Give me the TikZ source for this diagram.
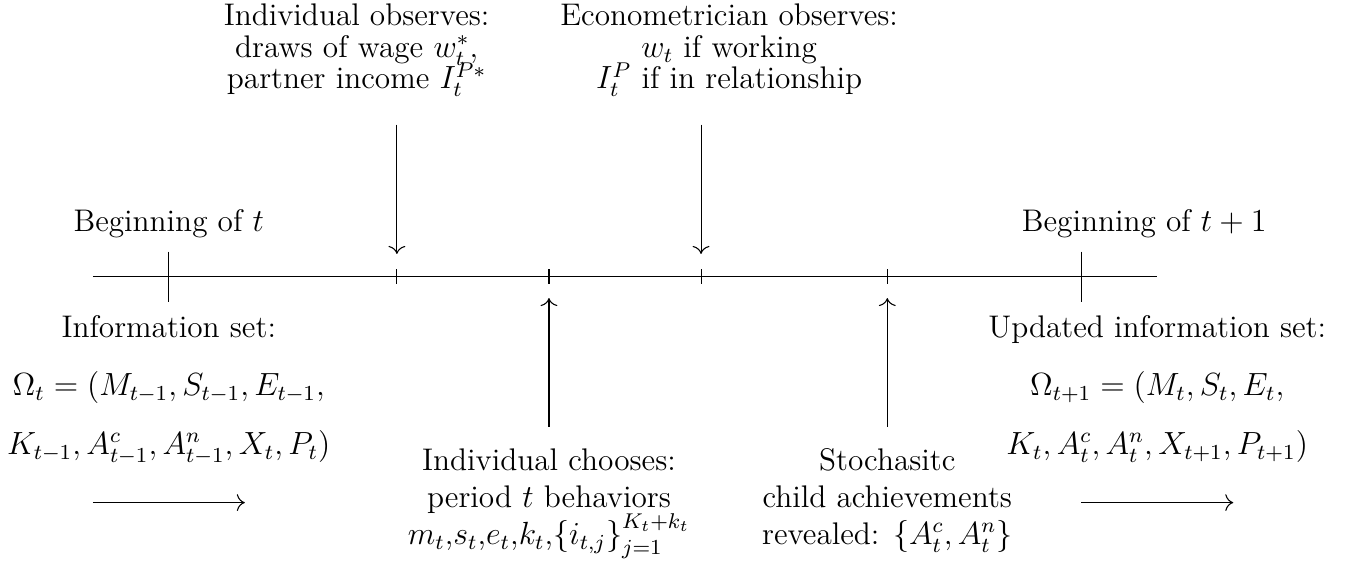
\documentclass[tikz,border=0pt]{standalone}
\usepackage{amsmath,amssymb}
\usetikzlibrary{arrows.meta,positioning,calc}
\newcommand{\obsfont}{\fontsize{11.7}{11.8}\selectfont\lineskiplimit=-20pt}
\newcommand{\evtfont}{\fontsize{11.7}{13.8}\selectfont}
\tikzset{
  timeline/.style={draw=black,line width=0.4pt},
  boundtick/.style={draw=black,line width=0.4pt},
  eventtick/.style={draw=black,line width=0.4pt},
  eventarrow/.style={-{To[length=3pt]},draw=black,line width=0.4pt},
  flowarrow/.style={-{To[length=3pt]},draw=black,line width=0.4pt},
  obslabel/.style={align=center,inner sep=1pt,font=\obsfont},
  eventlabel/.style={align=center,inner sep=1pt,font=\evtfont},
  infolabel/.style={align=center,inner sep=1pt,font=\evtfont}
}

\begin{document}
\begin{tikzpicture}
  \useasboundingbox (-1.22,-3.95) rectangle (16.68,3.64);

  % time axis
  \coordinate (axisL) at (0,0);
  \coordinate (axisR) at (14,0);
  \draw[timeline] (axisL) -- (axisR);

  % period boundaries and events within the period
  \foreach \n/\x in {b0/1,b1/13}{
    \coordinate (\n top) at (\x,0.33);
    \coordinate (\n bot) at (\x,-0.33);
    \draw[boundtick] (\n top) -- (\n bot);}
  \foreach \n/\x in {e1/4,e2/6,e3/8,e4/10.45}{
    \coordinate (\n top) at (\x,0.1);
    \coordinate (\n bot) at (\x,-0.1);
    \draw[eventtick] (\n top) -- (\n bot);}

  \node[eventlabel,anchor=base] (begin0) at (1,0.59) {Beginning of $t$};
  \node[eventlabel,anchor=base] (begin1) at (13.83,0.59) {Beginning of $t+1$};

  % what is observed (above the axis)
  \node[obslabel,anchor=north] (indobs) at (3.47,3.63) {Individual observes:\\draws of wage $w^*_t$,\\partner income $I^{P*}_t$};
  \node[obslabel,anchor=north] (ecoobs) at (8.37,3.63) {Econometrician observes:\\$w_t$ if working\\$I^P_t$ if in relationship};
  \coordinate (indobs from) at (4,2.0);
  \coordinate (indobs to) at (4,0.3);
  \coordinate (ecoobs from) at (8,2.0);
  \coordinate (ecoobs to) at (8,0.3);
  \draw[eventarrow] (indobs from) -- (indobs to);
  \draw[eventarrow] (ecoobs from) -- (ecoobs to);

  % choices and outcomes (below the axis)
  \node[eventlabel,anchor=north] (choose) at (6,-2.22) {Individual chooses:\\period $t$ behaviors\\$m_t$,$s_t$,$e_t$,$k_t$,$\left\{i_{t,j}\right\}_{j=1}^{K_t+k_t}$};
  \node[eventlabel,anchor=north] (reveal) at (10.45,-2.22) {Stochasitc\\child achievements\\revealed: $\{A^c_t,A^n_t\}$};
  \coordinate (choose from) at (6,-1.97);
  \coordinate (choose to) at (6,-0.28);
  \coordinate (reveal from) at (10.45,-1.97);
  \coordinate (reveal to) at (10.45,-0.28);
  \draw[eventarrow] (choose from) -- (choose to);
  \draw[eventarrow] (reveal from) -- (reveal to);

  % information sets
  \node[infolabel,anchor=north] (info0) at (1,-0.47) {Information set:\\[8pt]$\Omega_t=(M_{t-1},S_{t-1},E_{t-1},$\\[8pt]$K_{t-1},A^c_{t-1},A^n_{t-1},X_t,P_t)$};
  \node[infolabel,anchor=north] (info1) at (14,-0.47) {Updated information set:\\[8pt]$\Omega_{t+1}=(M_t,S_t,E_t,$\\[8pt]$K_t,A^c_t,A^n_t,X_{t+1},P_{t+1})$};

  \coordinate (flow0 from) at (0,-2.97);
  \coordinate (flow0 to) at (2,-2.97);
  \coordinate (flow1 from) at (13,-2.97);
  \coordinate (flow1 to) at (15,-2.97);
  \draw[flowarrow] (flow0 from) -- (flow0 to);
  \draw[flowarrow] (flow1 from) -- (flow1 to);
\end{tikzpicture}
\end{document}
